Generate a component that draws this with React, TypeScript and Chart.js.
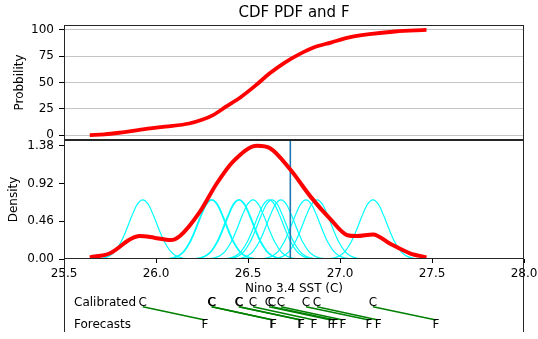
import React, { useEffect, useRef } from 'react';
import { Chart, registerables } from 'chart.js';
Chart.register(...registerables);

// ---------- data ----------
const TITLE = 'CDF PDF and F';
const X_LABEL = 'Nino 3.4 SST (C)';
const X_TICKS = [25.5, 26.0, 26.5, 27.0, 27.5, 28.0];
const CDF_TICKS = [0, 25, 50, 75, 100];
const PDF_TICKS = [0, 0.46, 0.92, 1.38];

const CDF_X = [25.64, 25.72, 25.80, 25.97, 26.05, 26.18, 26.25, 26.31, 26.38, 26.46, 26.54, 26.62, 26.70, 26.78, 26.86, 26.95, 27.05, 27.16, 27.30, 27.47];
const CDF_Y = [0, 0.7, 2.2, 6.3, 8, 11, 14.5, 19, 27, 36, 47, 59, 69, 77, 83.5, 88, 93, 96, 98.5, 100];

const PDF_X = [25.64, 25.75, 25.86, 25.91, 25.99, 26.08, 26.13, 26.24, 26.33, 26.42, 26.55, 26.62, 26.73, 26.84, 26.95, 27.04, 27.09, 27.18, 27.27, 27.38, 27.47];
const PDF_Y = [0.02, 0.07, 0.24, 0.28, 0.26, 0.23, 0.28, 0.58, 0.92, 1.19, 1.38, 1.35, 1.09, 0.76, 0.48, 0.29, 0.28, 0.30, 0.19, 0.07, 0.02];

// kernel profile (offset from centre, density)
const KERNEL_DX = [-0.27, -0.24, -0.21, -0.18, -0.15, -0.12, -0.09, -0.06, -0.03, 0, 0.03, 0.06, 0.09, 0.12, 0.15, 0.18, 0.21, 0.24, 0.27];
const KERNEL_Y = [0.001, 0.004, 0.014, 0.04, 0.097, 0.2, 0.35, 0.52, 0.665, 0.72, 0.665, 0.52, 0.35, 0.2, 0.097, 0.04, 0.014, 0.004, 0.001];

const CALIBRATED = [25.928, 26.301, 26.305, 26.449, 26.453, 26.527, 26.614, 26.630, 26.679, 26.815, 26.875, 27.179];
const FORECASTS = [26.266, 26.634, 26.638, 26.786, 26.790, 26.859, 26.951, 26.973, 27.016, 27.158, 27.207, 27.522];
const OBSERVED = 26.73;

// ---------- layout / style constants ----------
const W = 538, H = 339;
const FONT_FAMILY = '"DejaVu Sans", sans-serif';
const RED = '#ff0000';
const CYAN = '#00ffff';
const BLUE = '#1f77b4';
const GREEN = '#008000';
const SPINE = '#262626';
const ROW_C = 0.40, ROW_F = 0.1, LINE_C = 0.347, LINE_F = 0.164;

const pts = (xs: number[], ys: number[]) => xs.map((x, i) => ({ x, y: ys[i] }));

const panelsPlugin = {
  id: 'panels',
  afterDraw(chart: any) {
    const { ctx, chartArea, scales } = chart;
    const yC = scales.yC, yP = scales.yP;
    const L = Math.round(chartArea.left) + 0.5;
    const R = Math.round(chartArea.right) - 0.5;
    ctx.save();
    ctx.strokeStyle = SPINE;
    ctx.lineWidth = 1;
    const box = (t: number, b: number) => {
      const T = Math.round(t) + 0.5, B = Math.round(b) - 0.5;
      ctx.strokeRect(L, T, R - L, B - T);
    };
    box(yC.top, yC.bottom);
    box(yP.top, yP.bottom);
    ctx.fillStyle = '#000';
    ctx.font = `15px ${FONT_FAMILY}`;
    ctx.textAlign = 'center';
    ctx.textBaseline = 'middle';
    ctx.fillText(TITLE, (chartArea.left + chartArea.right) / 2, 13);
    ctx.restore();
  },
};

const rowsPlugin = {
  id: 'rows',
  afterDatasetsDraw(chart: any) {
    const { ctx, chartArea, scales } = chart;
    const x = scales.x, y = scales.y;
    ctx.save();
    ctx.fillStyle = '#000';
    ctx.font = `12px ${FONT_FAMILY}`;
    ctx.textBaseline = 'middle';
    ctx.textAlign = 'left';
    ctx.fillText('Calibrated', chartArea.left + 10, y.getPixelForValue(ROW_C));
    ctx.fillText('Forecasts', chartArea.left + 10, y.getPixelForValue(ROW_F));
    ctx.textAlign = 'center';
    CALIBRATED.forEach((v) => ctx.fillText('C', x.getPixelForValue(v), y.getPixelForValue(ROW_C)));
    FORECASTS.forEach((v) => ctx.fillText('F', x.getPixelForValue(v), y.getPixelForValue(ROW_F)));
    ctx.strokeStyle = SPINE;
    ctx.lineWidth = 1;
    const L = Math.round(chartArea.left) + 0.5;
    const R = Math.round(chartArea.right) - 0.5;
    ctx.beginPath();
    ctx.moveTo(L, chartArea.top);
    ctx.lineTo(L, chartArea.bottom);
    ctx.moveTo(R, chartArea.top);
    ctx.lineTo(R, chartArea.bottom);
    ctx.stroke();
    ctx.restore();
  },
};

export default function App() {
  const ref1 = useRef<HTMLCanvasElement>(null);
  const ref2 = useRef<HTMLCanvasElement>(null);

  useEffect(() => {
    Chart.defaults.font.family = FONT_FAMILY;
    Chart.defaults.font.size = 12;
    Chart.defaults.color = '#000';
    const font = { family: FONT_FAMILY, size: 12 };

    const lineDs = (data: any[], color: string, width: number, axis: string) => ({
      data,
      borderColor: color,
      backgroundColor: color,
      borderWidth: width,
      pointRadius: 0,
      fill: false,
      cubicInterpolationMode: 'monotone',
      yAxisID: axis,
    });

    const kernels = CALIBRATED.map((c) =>
      lineDs(KERNEL_DX.map((d, i) => ({ x: c + d, y: KERNEL_Y[i] })), CYAN, 1.2, 'yP')
    );

    const c1 = new Chart(ref1.current!, {
      type: 'line',
      data: {
        datasets: [
          lineDs(pts(CDF_X, CDF_Y), RED, 3.8, 'yC'),
          lineDs(pts(PDF_X, PDF_Y), RED, 4, 'yP'),
          lineDs([{ x: OBSERVED, y: 0 }, { x: OBSERVED, y: 1.45 }], BLUE, 1.6, 'yP'),
          ...kernels,
        ] as any,
      },
      options: {
        animation: false,
        responsive: false,
        maintainAspectRatio: false,
        events: [],
        layout: { padding: { left: 4, right: 14, top: 25, bottom: 40 } },
        plugins: { legend: { display: false }, tooltip: { enabled: false }, title: { display: false } },
        scales: {
          x: {
            type: 'linear',
            position: 'bottom',
            min: 25.5,
            max: 28,
            afterBuildTicks: (s: any) => { s.ticks = X_TICKS.map((value) => ({ value })); },
            afterFit: (s: any) => { s.height = 40; s.paddingLeft = 0; s.paddingRight = 0; },
            ticks: { font, color: '#000', padding: 4, maxRotation: 0, autoSkip: false, callback: (v: any) => Number(v).toFixed(1) },
            grid: { drawOnChartArea: false, tickLength: 4, tickColor: '#000' },
            border: { display: false },
            title: { display: true, text: X_LABEL, font, color: '#000', padding: { top: 0, bottom: 3 } },
          },
          yP: {
            type: 'linear',
            position: 'left',
            stack: 'v',
            stackWeight: 119,
            weight: 1,
            min: 0,
            max: 1.45,
            afterBuildTicks: (s: any) => { s.ticks = PDF_TICKS.map((value) => ({ value })); },
            afterFit: (s: any) => { s.width = 60; },
            ticks: { font, color: '#000', padding: 5, autoSkip: false, callback: (v: any) => Number(v).toFixed(2) },
            grid: { drawOnChartArea: false, tickLength: 5, tickColor: '#000' },
            border: { display: false },
            title: { display: true, text: 'Density', font, color: '#000', padding: { top: 3, bottom: 0 } },
          },
          yC: {
            type: 'linear',
            position: 'left',
            stack: 'v',
            stackWeight: 115,
            weight: 2,
            min: -4.7,
            max: 104.7,
            afterBuildTicks: (s: any) => { s.ticks = CDF_TICKS.map((value) => ({ value })); },
            afterFit: (s: any) => { s.width = 60; },
            ticks: { font, color: '#000', padding: 5, autoSkip: false, callback: (v: any) => String(v) },
            grid: { color: '#c4c4c4', lineWidth: 1, tickLength: 5, tickColor: '#000' },
            border: { display: false },
            title: { display: true, text: 'Probbility', font, color: '#000', padding: { top: 8.3, bottom: 0 } },
          },
        },
      } as any,
      plugins: [panelsPlugin],
    });

    const c2 = new Chart(ref2.current!, {
      type: 'line',
      data: {
        datasets: CALIBRATED.map((c, i) => ({
          data: [{ x: c, y: LINE_C }, { x: FORECASTS[i], y: LINE_F }],
          borderColor: GREEN,
          backgroundColor: GREEN,
          borderWidth: 1.5,
          pointRadius: 0,
          fill: false,
        })) as any,
      },
      options: {
        animation: false,
        responsive: false,
        maintainAspectRatio: false,
        events: [],
        layout: { padding: { left: 64, right: 14, top: 0, bottom: 7 } },
        plugins: { legend: { display: false }, tooltip: { enabled: false } },
        scales: {
          x: { type: 'linear', min: 25.5, max: 28, display: false },
          y: { type: 'linear', min: 0, max: 1, display: false },
        },
      } as any,
      plugins: [rowsPlugin],
    });

    return () => { c1.destroy(); c2.destroy(); };
  }, []);

  return (
    <div style={{ position: 'absolute', left: 0, top: 0, width: W, height: H, background: '#fff' }}>
      <canvas ref={ref1} width={W} height={H} style={{ position: 'absolute', left: 0, top: 0, width: W, height: H }} />
      <canvas ref={ref2} width={W} height={80} style={{ position: 'absolute', left: 0, top: 259, width: W, height: 80 }} />
    </div>
  );
}
